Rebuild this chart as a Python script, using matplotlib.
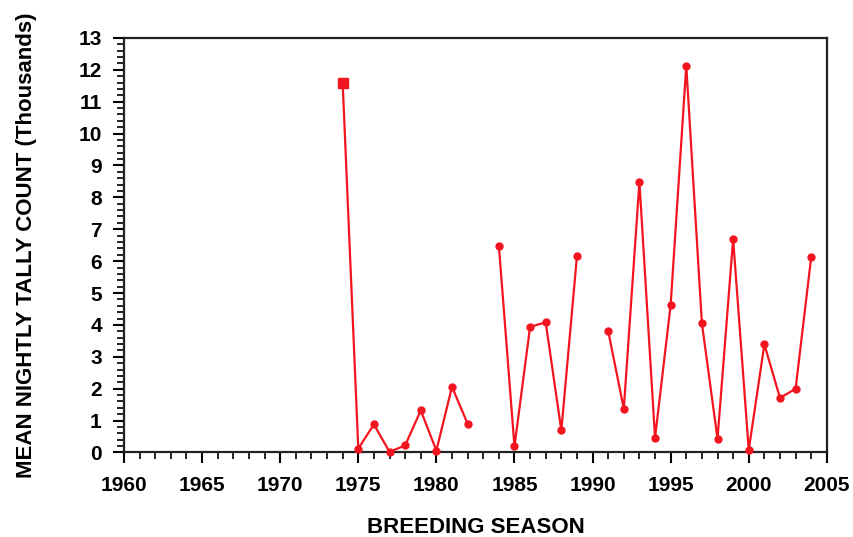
import matplotlib
matplotlib.use("Agg")
import matplotlib.pyplot as plt
from matplotlib.ticker import MultipleLocator
import numpy as np

# ── data (thousands of birds, NaN = no count that season) ────────────────────
years = list(range(1974, 2005))
counts = [11.6, 0.12, 0.88, 0.02, 0.22, 1.32, 0.06, 2.06, 0.90, np.nan,
          6.49, 0.19, 3.94, 4.08, 0.69, 6.15, np.nan,
          3.81, 1.37, 8.48, 0.46, 4.63, 12.13, 4.05, 0.43, 6.69,
          0.08, 3.39, 1.71, 2.00, 6.13]

x_ticks = list(range(1960, 2006, 5))
y_ticks = list(range(0, 14))

RED = "#f2151f"

plt.rcParams["font.family"] = ["Liberation Sans", "DejaVu Sans"]

fig = plt.figure(figsize=(8.54, 5.37), dpi=100)
ax = fig.add_axes([0.1452, 0.1574, 0.823, 0.772])

yrs = np.array(years)
cts = np.array(counts, dtype=float)
ax.plot(yrs, cts, color=RED, lw=1.6, zorder=3, clip_on=False)
ax.plot(yrs[1:], cts[1:], ls="none", marker="o", ms=5, color=RED,
        zorder=4, clip_on=False)
ax.plot(yrs[:1], cts[:1], ls="none", marker="s", ms=6.5, color=RED,
        zorder=4, clip_on=False)

ax.set_xlim(1960, 2005)
ax.set_ylim(0, 13)
ax.set_xticks(x_ticks)
ax.set_yticks(y_ticks)
ax.xaxis.set_minor_locator(MultipleLocator(1))
ax.yaxis.set_minor_locator(MultipleLocator(0.2))

ax.tick_params(axis="both", which="major", direction="out", length=8, width=1.5,
               labelsize=15)
ax.tick_params(axis="x", which="major", pad=9)
ax.tick_params(axis="y", which="major", pad=8)
ax.tick_params(axis="both", which="minor", direction="out", length=5, width=1.2)
for lab in ax.get_xticklabels() + ax.get_yticklabels():
    lab.set_fontweight("bold")

for sp in ax.spines.values():
    sp.set_linewidth(1.6)
    sp.set_color("#222222")

ax.set_xlabel("BREEDING SEASON", fontsize=16, fontweight="bold", labelpad=16)
ax.set_ylabel("MEAN NIGHTLY TALLY COUNT (Thousands)", fontsize=16,
              fontweight="bold", labelpad=30)

fig.savefig("out.png", dpi=100)
